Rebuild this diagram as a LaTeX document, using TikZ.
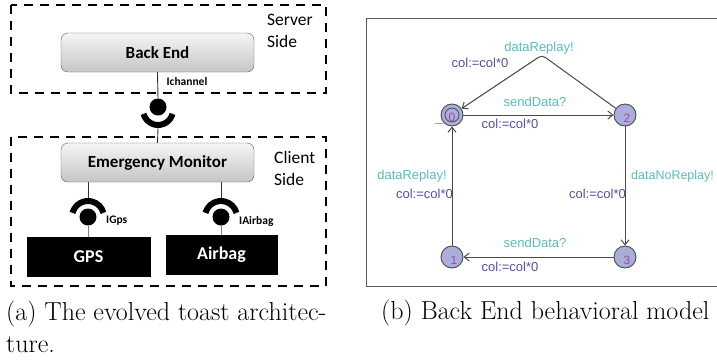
\documentclass[tikz,border=0pt]{standalone}
\usepackage{fontspec}
\newfontfamily\carlitofont{Carlito}
\newfontfamily\libsansfont{Liberation Sans}
\usetikzlibrary{arrows.meta}
\definecolor{stfill}{HTML}{A9AEDA}
\definecolor{stnum}{HTML}{9A4A9E}
\definecolor{synccol}{HTML}{5FB9BA}
\definecolor{asgcol}{HTML}{5A4E9E}
\definecolor{edgecol}{HTML}{4A4A4A}
\tikzset{
  dashbox/.style={draw=black, line width=2pt, dash pattern=on 9pt off 7pt},
  comp/.style={draw=gray!70!black, rounded corners=7pt, top color=gray!8, bottom color=gray!45, minimum width=193pt, minimum height=39pt, inner sep=0pt, font=\carlitofont\bfseries\fontsize{17}{20}\selectfont},
  hw/.style={fill=black, draw=black, inner sep=0pt, minimum height=39pt, text=white, font=\carlitofont\bfseries\fontsize{18}{20}\selectfont},
  ball/.style={circle, fill=black, inner sep=0pt, minimum size=17pt},
  sock/.style={line width=6pt, line cap=butt},
  conn/.style={draw=black!80, line width=0.9pt},
  iflabel/.style={font=\carlitofont\bfseries\fontsize{11.5}{13}\selectfont, inner sep=0pt},
  sidelabel/.style={font=\carlitofont\fontsize{17.5}{22}\selectfont, align=left, anchor=west, inner sep=0pt},
  state/.style={circle, draw=edgecol, fill=stfill, line width=0.9pt, minimum size=22pt, inner sep=0pt},
  stnumber/.style={font=\libsansfont\fontsize{12}{12}\selectfont, text=stnum, inner sep=0pt},
  edge/.style={draw=edgecol, line width=1pt, -{Straight Barb[length=5pt,width=8pt]}},
  sync/.style={font=\libsansfont\fontsize{13}{14}\selectfont, text=synccol, inner sep=0pt},
  asg/.style={font=\libsansfont\fontsize{13}{14}\selectfont, text=asgcol, inner sep=0pt},
  capt/.style={font=\fontsize{26}{32}\selectfont, anchor=west, align=left, inner sep=0pt}
}
\begin{document}
\begin{tikzpicture}[x=1pt,y=-1pt]
\useasboundingbox (0,0) rectangle (717,360);
% ---------- left panel ----------
\draw[dashbox] (11,5) rectangle (326,93);
\draw[dashbox] (11,137) rectangle (326,286);
\node[sidelabel] (srv) at (267,31) {Server\\Side};
\node[sidelabel] (cli) at (274,168) {Client\\Side};
\node[comp] (be) at (157.5,52.5) {Back End};
\node[comp] (em) at (157.5,162.5) {Emergency Monitor};
\node[hw, minimum width=123pt] (gps) at (88.5,256.5) {GPS};
\node[hw, minimum width=111pt] (air) at (221.5,254.5) {Airbag};
% Ichannel
\node[ball] (chball) at (158,107) {};
\draw[sock] (158,110) ++(15:15) arc (15:165:15);
\coordinate (chsock) at (158,128);
\draw[conn] (be.south) -- (chball.north);
\draw[conn] (chsock) -- (em.north);
\node[iflabel] (chl) at (187,82) {Ichannel};
% IGps
\coordinate (emgps) at (88,182);
\coordinate (gpssock) at (88,198);
\node[ball] (gpsball) at (88,217) {};
\draw[sock] (88,217) ++(195:16) arc (195:345:16);
\draw[conn] (emgps) -- (gpssock);
\draw[draw=gray, line width=0.9pt] (gpsball.south) -- (gps.north -| gpsball);
\node[iflabel, anchor=west] (gpsl) at (106,221) {IGps};
% IAirbag
\coordinate (emair) at (221,182);
\coordinate (airsock) at (221,198);
\node[ball] (airball) at (221,217) {};
\draw[sock] (221,217) ++(195:16) arc (195:345:16);
\draw[conn] (emair) -- (airsock);
\draw[draw=gray, line width=0.9pt] (airball.south) -- (air.north -| airball);
\node[iflabel, anchor=west] (airl) at (239,221) {IAirbag};
% ---------- right panel ----------
\draw[draw=gray!70!black, line width=1pt] (366,18) rectangle (730,286);
\node[state] (s0) at (452,115) {};
\draw[edgecol, line width=0.8pt] (s0) circle (7pt);
\draw[draw=stnum!60, line width=0.8pt] (435,123) -- (443,123);
\node[state] (s2) at (625,115) {};
\node[state] (s1) at (452,257) {};
\node[state] (s3) at (625,257) {};
\node[stnumber] at (452,117) {0};
\node[stnumber] at (627,118) {2};
\node[stnumber] at (454,260) {1};
\node[stnumber] at (627,260) {3};
\coordinate (nail) at (542,55);
\draw[edge] (s0) -- (s2);
\draw[edge, rounded corners=4pt] (s2) -- (nail) -- (s0);
\draw[edge] (s2) -- (s3);
\draw[edge] (s3) -- (s1);
\draw[edge] (s1) -- (s0);
\node[sync] at (539,48) {dataReplay!};
\node[asg] at (480,63) {col:=col*0};
\node[sync] at (535,102) {sendData?};
\node[asg] at (510,124) {col:=col*0};
\node[sync] at (412,176) {dataReplay!};
\node[asg, anchor=east] at (453,194) {col:=col*0};
\node[asg, anchor=east] at (626,194) {col:=col*0};
\node[sync, anchor=west, font=\libsansfont\fontsize{12.5}{14}\selectfont] at (631,176) {dataNoReplay!};
\node[sync] at (535,243) {sendData?};
\node[asg] at (510,267) {col:=col*0};
% ---------- captions ----------
\node[capt] (capa) at (6,327) {(a) The evolved toast architec-\\ture.};
\node[capt, anchor=west] (capb) at (381,313) {(b) Back End behavioral model};
\end{tikzpicture}
\end{document}
